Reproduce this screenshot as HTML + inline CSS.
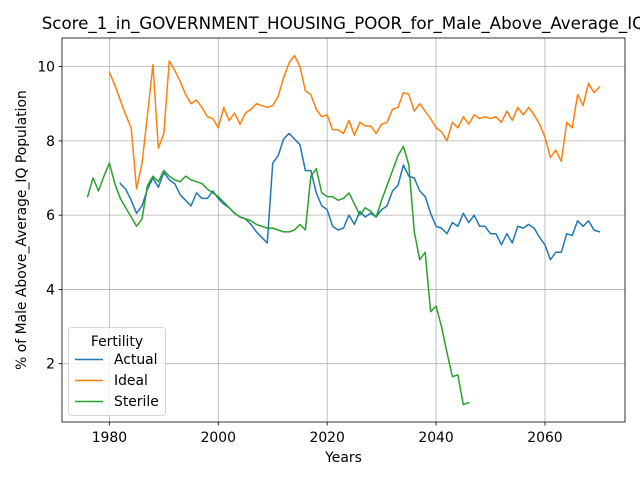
<!DOCTYPE html>
<html><head><meta charset="utf-8"><style>
body{margin:0;background:#fff;font-family:"Liberation Sans","DejaVu Sans",sans-serif;}
svg text{font-family:"DejaVu Sans","Liberation Sans",sans-serif;}
</style></head><body>
<svg id="chart" width="640" height="480"></svg>
<script>
const startActual = 1982;
const actual = [6.85,6.7,6.4,6.05,6.25,6.7,7.0,6.75,7.15,6.95,6.85,6.55,6.4,6.25,6.6,6.45,6.45,6.65,6.45,6.3,6.2,6.05,5.95,5.9,5.75,5.55,5.4,5.25,7.4,7.6,8.05,8.2,8.05,7.9,7.2,7.2,6.6,6.25,6.15,5.7,5.6,5.65,6.0,5.75,6.1,5.95,6.05,5.95,6.15,6.25,6.65,6.8,7.35,7.05,7.0,6.65,6.5,6.05,5.7,5.65,5.5,5.8,5.7,6.05,5.8,6.0,5.7,5.7,5.5,5.5,5.2,5.5,5.25,5.7,5.65,5.75,5.65,5.4,5.2,4.8,5.0,5.0,5.5,5.45,5.85,5.7,5.85,5.6,5.55];
const startIdeal = 1980;
const ideal = [9.85,9.5,9.1,8.7,8.35,6.7,7.4,8.7,10.05,7.8,8.2,10.15,9.9,9.6,9.25,9.0,9.1,8.9,8.65,8.6,8.35,8.9,8.55,8.75,8.45,8.75,8.85,9.0,8.95,8.9,8.95,9.2,9.7,10.1,10.3,10.0,9.35,9.25,8.85,8.65,8.7,8.3,8.3,8.2,8.55,8.15,8.5,8.4,8.4,8.2,8.45,8.5,8.85,8.9,9.3,9.25,8.8,9.0,8.8,8.6,8.35,8.25,8.0,8.5,8.35,8.65,8.45,8.7,8.6,8.65,8.6,8.65,8.5,8.8,8.55,8.9,8.7,8.9,8.7,8.45,8.1,7.55,7.75,7.45,8.5,8.35,9.25,8.95,9.55,9.3,9.45];
const startSterile = 1976;
const sterile = [6.5,7.0,6.65,7.05,7.4,6.85,6.45,6.2,5.95,5.7,5.9,6.8,7.05,6.9,7.2,7.05,6.95,6.9,7.05,6.95,6.9,6.85,6.7,6.6,6.5,6.35,6.2,6.05,5.95,5.9,5.85,5.75,5.7,5.65,5.65,5.6,5.55,5.55,5.6,5.75,5.6,7.05,7.25,6.6,6.5,6.5,6.4,6.45,6.6,6.3,6.0,6.2,6.1,5.95,6.4,6.8,7.2,7.6,7.85,7.35,5.55,4.8,5.0,3.4,3.55,3.0,2.3,1.65,1.7,0.9,0.95];
const xTicks = [1980,2000,2020,2040,2060];
const yTicks = [2,4,6,8,10];

const L=62,R=625,T=38,B=422, X0=1971.3,X1=2074.7,Y0=0.43,Y1=10.77;
const sx=v=>L+(v-X0)/(X1-X0)*(R-L);
const sy=v=>B-(v-Y0)/(Y1-Y0)*(B-T);
const svg=document.getElementById('chart');
const NS='http://www.w3.org/2000/svg';
function mk(tag,attrs,parent){const e=document.createElementNS(NS,tag);for(const k in attrs)e.setAttribute(k,attrs[k]);(parent||svg).appendChild(e);return e;}

xTicks.forEach(t=>{
  const g=mk('line',{x1:sx(t),x2:sx(t),y1:T,y2:B,stroke:'#b0b0b0','stroke-width':0.8});
  
  
  mk('line',{x1:sx(t),x2:sx(t),y1:B,y2:B+3.5,stroke:'#000','stroke-width':0.8});
  const tx=mk('text',{x:sx(t),y:B+20,'text-anchor':'middle','font-size':13.9});
  tx.textContent=t;
  
  
});
yTicks.forEach(t=>{
  const g=mk('line',{x1:L,x2:R,y1:sy(t),y2:sy(t),stroke:'#b0b0b0','stroke-width':0.8});
  
  
  mk('line',{x1:L-3.5,x2:L,y1:sy(t),y2:sy(t),stroke:'#000','stroke-width':0.8});
  const tx=mk('text',{x:L-7,y:sy(t)+5,'text-anchor':'end','font-size':13.9});
  tx.textContent=t;
  
  
});

function series(arr,start,color,name){
  const pts=arr.map((v,i)=>sx(start+i).toFixed(2)+','+sy(v).toFixed(2)).join(' ');
  const p=mk('polyline',{points:pts,fill:'none',stroke:color,'stroke-width':1.5,'stroke-linejoin':'round','stroke-linecap':'square'});
  
  
}
series(actual,startActual,'#1f77b4','actual-line');
series(ideal,startIdeal,'#ff7f0e','ideal-line');
series(sterile,startSterile,'#2ca02c','sterile-line');

const frame=mk('rect',{x:L,y:T,width:R-L,height:B-T,fill:'none',stroke:'#000','stroke-width':0.8});



const title=mk('text',{x:(L+R)/2,y:29,'text-anchor':'middle','font-size':16.7});
title.textContent='Score_1_in_GOVERNMENT_HOUSING_POOR_for_Male_Above_Average_IQ';


const xl=mk('text',{x:(L+R)/2,y:462,'text-anchor':'middle','font-size':13.9});
xl.textContent='Years';


const yl=mk('text',{x:0,y:0,'text-anchor':'middle','font-size':13.9,transform:'translate(26,'+((T+B)/2)+') rotate(-90)'});
yl.textContent='% of Male Above_Average_IQ Population';



const lg=mk('g',{});


mk('rect',{x:68.5,y:327.5,width:97,height:88,rx:3,fill:'#fff','fill-opacity':0.8,stroke:'#ccc','stroke-width':0.8},lg);
const lt=mk('text',{x:117,y:346,'text-anchor':'middle','font-size':13.9},lg);
lt.textContent='Fertility';
const names=['Actual','Ideal','Sterile'],cols=['#1f77b4','#ff7f0e','#2ca02c'];
names.forEach((n,i)=>{
  const y=364+i*21;
  const e=mk('g',{},lg);
  
  
  mk('line',{x1:75,x2:103,y1:y-4.5,y2:y-4.5,stroke:cols[i],'stroke-width':1.5},e);
  const t=mk('text',{x:114,y:y,'font-size':13.9},e);
  t.textContent=n;
});
</script>
</body></html>
